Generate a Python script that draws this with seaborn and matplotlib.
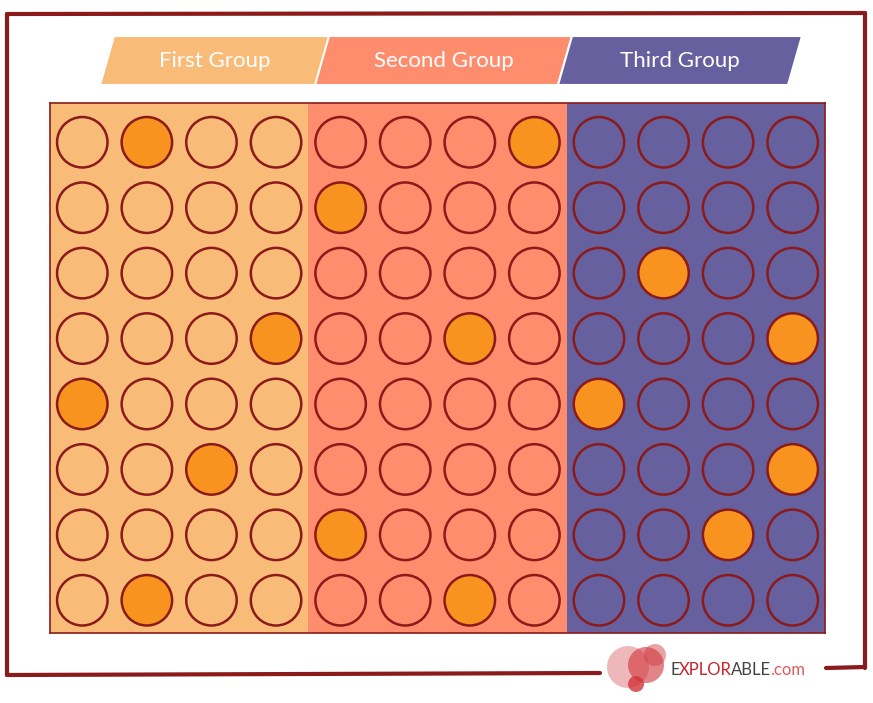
import numpy as np
import pandas as pd
import matplotlib
matplotlib.use("Agg")
import matplotlib.pyplot as plt
from matplotlib.patches import Polygon, Ellipse
import seaborn as sns

# Data: three groups, 4 columns x 8 rows each, with a few highlighted cells
groups = ["First Group", "Second Group", "Third Group"]
n_cols = 4
n_rows = 8
# (row, col) of the highlighted circles in each group, rows counted from the top
lit_first = [(0, 1), (3, 3), (4, 0), (5, 2), (7, 1)]
lit_second = [(0, 3), (1, 0), (3, 2), (6, 0), (7, 2)]
lit_third = [(2, 1), (3, 3), (4, 0), (5, 3), (6, 2)]
lit_cells = [lit_first, lit_second, lit_third]

group_colors = ["#F9BC78", "#FD8D6C", "#66609E"]
lit_color = "#F7931E"
ink = "#8B1A1A"

rows = []
for g, name in enumerate(groups):
    for r in range(n_rows):
        for c in range(n_cols):
            lit = (r, c) in lit_cells[g]
            rows.append({"group": name, "x": g * n_cols + c, "y": r,
                         "fill": "lit" if lit else name})
df = pd.DataFrame(rows)

palette = {name: col for name, col in zip(groups, group_colors)}
palette["lit"] = lit_color

sns.set_theme(style="white")
plt.rcParams["font.family"] = ["Lato", "DejaVu Sans"]

fig = plt.figure(figsize=(8.73, 7.03), dpi=100)
W, H = 873, 703

def fx(px):
    return px / W

def fy(py):
    return 1 - py / H

# outer frame
frame_lines = [
    ([7, 865], [14, 13]),
    ([7, 7], [14, 675]),
    ([865, 865], [13, 668]),
    ([7, 600], [675, 673]),
    ([826, 865], [668, 667]),
]
for xs, ys in frame_lines:
    ln = plt.Line2D([fx(v) for v in xs], [fy(v) for v in ys], color=ink, lw=3,
                    solid_capstyle="round", transform=fig.transFigure)
    fig.add_artist(ln)

# header labels as slanted tabs
tabs = [(100, 330), (315, 572), (558, 802)]
for (x0, x1), name, col in zip(tabs, groups, group_colors):
    pts = [(fx(x0), fy(85)), (fx(x0 + 14), fy(36)), (fx(x1), fy(36)), (fx(x1 - 14), fy(85))]
    tab = Polygon(pts, closed=True, facecolor=col, edgecolor="white", lw=1.5,
                  transform=fig.transFigure)
    fig.add_artist(tab)
    fig.text(fx((x0 + x1) / 2), fy(61), name, color="white", fontsize=16,
             ha="center", va="center")

# main grid of circles
ax = fig.add_axes([fx(50), fy(633), fx(825) - fx(50), (633 - 103) / H])
for g, col in enumerate(group_colors):
    ax.axvspan(g * n_cols - 0.5, g * n_cols + n_cols - 0.5, color=col, lw=0, zorder=0)

sns.scatterplot(data=df, x="x", y="y", hue="fill", palette=palette, s=1320,
                edgecolor=ink, linewidth=1.8, legend=False, ax=ax, zorder=3)

ax.set_xlim(-0.5, 11.5)
ax.set_ylim(7.5, -0.6)
ax.set_xlabel("")
ax.set_ylabel("")
ax.set_xticks([])
ax.set_yticks([])
for s in ax.spines.values():
    s.set_color(ink)
    s.set_linewidth(1.2)

# logo
for cx, cy, r, a in [(628, 667, 21, 0.35), (646, 665, 18, 0.6), (655, 655, 11, 0.45), (636, 684, 8, 0.8)]:
    fig.add_artist(Ellipse((fx(cx), fy(cy)), 2 * r / W, 2 * r / H, facecolor="#D0343A",
                           alpha=a, lw=0, transform=fig.transFigure))

renderer = fig.canvas.get_renderer()
x_pos = fx(670)
for part, col in [("E", "#444444"), ("XPLOR", "#C8252C"), ("ABLE", "#444444"), (".com", "#E05A5A")]:
    t = fig.text(x_pos, fy(670), part, color=col, fontsize=12, va="center", ha="left")
    bb = t.get_window_extent(renderer)
    x_pos = bb.x1 / W - 1.0 / W

fig.savefig("out.png", dpi=100)
